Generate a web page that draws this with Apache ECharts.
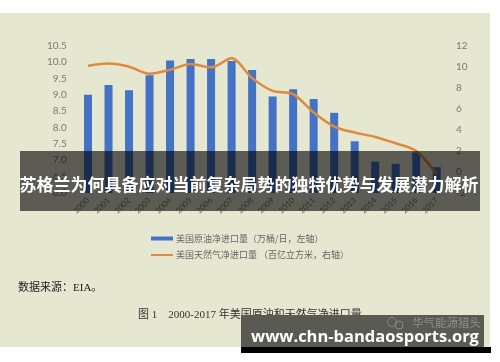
<!DOCTYPE html>
<html><head><meta charset="utf-8">
<script src="https://cdn.jsdelivr.net/npm/echarts@6/dist/echarts.min.js"></script>
<style>html,body{margin:0;padding:0;background:#fff}#c{width:500px;height:362px}</style>
</head><body><div id="c"></div>
<script>
const years = ['2000','2001','2002','2003','2004','2005','2006','2007','2008','2009','2010','2011','2012','2013','2014','2015','2016','2017'];
const oilImports = [9.00, 9.30, 9.14, 9.60, 10.05, 10.09, 10.09, 10.03, 9.76, 8.95, 9.17, 8.87, 8.45, 7.58, 6.96, 6.89, 7.24, 6.79];
const gasImports = [10.1, 10.3, 10.0, 9.33, 9.7, 10.25, 9.94, 10.8, 8.92, 7.71, 7.4, 5.65, 4.32, 3.75, 3.33, 2.73, 2.0, -0.2];
const oilName = '美国原油净进口量（万桶/日，左轴）';
const gasName = '美国天然气净进口量 （百亿立方米，右轴）';
const overlayTitle = '苏格兰为何具备应对当前复杂局势的独特优势与发展潜力解析';
const sourceText = '数据来源：EIA。';
const captionText = '图 1　2000-2017 年美国原油和天然气净进口量';
const watermarkSite = 'www.chn-bandaosports.org';
const watermarkName = '华气能源猎头';

const chart = echarts.init(document.getElementById('c'));
const axisTxt = {color:'#7a7a72', fontSize:10, fontFamily:'Lato, "Noto Sans", sans-serif'};
chart.setOption({
  backgroundColor:'#e6e7d1',
  animation:false,
  grid:{left:77.75, right:53, top:45.7, bottom:169},
  legend:[
    {data:[oilName], orient:'vertical', left:151, top:234, itemWidth:22, itemHeight:4, itemGap:4,
     icon:'rect', textStyle:{color:'#666', fontSize:9, padding:[0,0,0,-2], fontFamily:'"Noto Sans CJK SC", sans-serif'}, padding:0},
    {data:[gasName], orient:'vertical', left:151, top:250.5, itemWidth:22, itemHeight:2, itemGap:4,
     icon:'rect', textStyle:{color:'#666', fontSize:9, padding:[0,0,0,-2], fontFamily:'"Noto Sans CJK SC", sans-serif'}, padding:0}
  ],
  xAxis:{type:'category', data:years, axisLine:{show:false}, axisTick:{show:false},
    axisLabel:{rotate:45, interval:0, margin:6, color:'#77776f', fontSize:8, fontFamily:'Lato, sans-serif'}},
  yAxis:[
    {type:'value', min:6, max:10.5, interval:0.5, splitLine:{show:false}, axisLine:{show:false}, axisTick:{show:false},
     axisLabel:Object.assign({margin:11, formatter:v=>v.toFixed(1)}, axisTxt)},
    {type:'value', min:-2, max:12, interval:2, splitLine:{show:false}, axisLine:{show:false}, axisTick:{show:false},
     axisLabel:Object.assign({margin:9}, axisTxt)}
  ],
  series:[
    {name:oilName, type:'bar', data:oilImports, barWidth:8, itemStyle:{color:'#4472c4'}, yAxisIndex:0},
    {name:gasName, type:'line', data:gasImports, yAxisIndex:1, smooth:0.3, showSymbol:false, symbol:'none',
     lineStyle:{color:'#e08a3c', width:2.5}, itemStyle:{color:'#e08a3c'}}
  ],
  graphic:[
    {type:'rect', z:50, shape:{x:0,y:0,width:500,height:13}, style:{fill:'#ffffff'}},
    {type:'rect', z:50, shape:{x:490,y:0,width:10,height:362}, style:{fill:'#ffffff'}},
    {type:'rect', z:50, shape:{x:0,y:347,width:500,height:15}, style:{fill:'#ffffff'}},
    {type:'text', z:60, left:18, top:283, style:{text:sourceText, fill:'#222', fontSize:11, fontFamily:'"Liberation Serif", "Noto Sans CJK SC", serif'}},
    {type:'text', z:60, left:138, top:310, style:{text:captionText, fill:'#333', fontSize:11, fontFamily:'"Liberation Serif", "Noto Sans CJK SC", serif'}},
    {type:'rect', z:100, shape:{x:20,y:151,width:460,height:60}, style:{fill:'rgba(0,0,0,0.6)'}},
    {type:'text', z:101, x:249, y:185, style:{text:overlayTitle, fill:'#ffffff', fontSize:17, fontWeight:'bold', align:'center', verticalAlign:'middle', fontFamily:'"Noto Sans CJK SC", sans-serif'}},
    {type:'rect', z:100, shape:{x:241,y:315,width:243,height:32}, style:{fill:'#5a5a52'}},
    {type:'rect', z:100, shape:{x:241,y:347,width:250,height:6}, style:{fill:'#000000'}},
    {type:'circle', z:101, shape:{cx:392,cy:322,r:4.5}, style:{fill:'none', stroke:'#8a8a82', lineWidth:1}},
    {type:'circle', z:101, shape:{cx:399,cy:325,r:4}, style:{fill:'none', stroke:'#8a8a82', lineWidth:1}},
    {type:'text', z:101, x:412, y:323, style:{text:watermarkName, fill:'#8f8f87', fontSize:11.5, verticalAlign:'middle', fontFamily:'"Noto Sans CJK SC", sans-serif'}},
    {type:'text', z:102, x:365, y:337, style:{text:watermarkSite, fill:'#ffffff', fontSize:16.5, fontWeight:'bold', align:'center', verticalAlign:'middle', fontFamily:'"Open Sans", "Noto Sans", sans-serif'}}
  ]
});
</script></body></html>
